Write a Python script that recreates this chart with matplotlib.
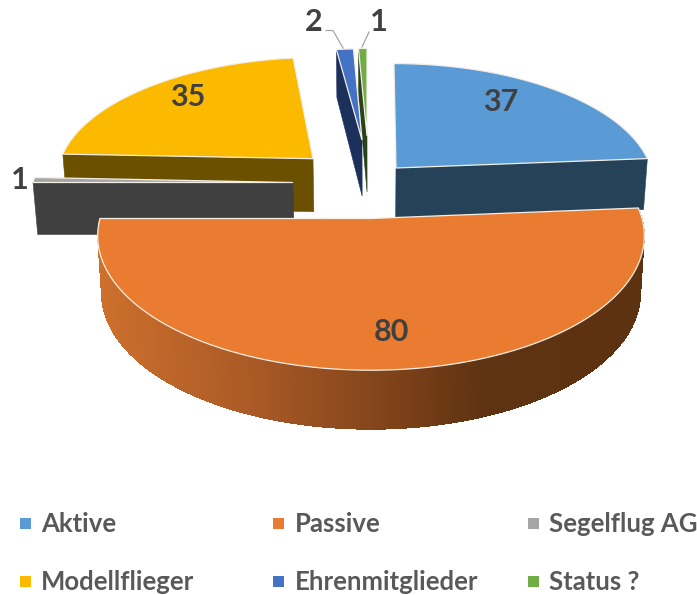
import numpy as np
import matplotlib
matplotlib.use("Agg")
import matplotlib.pyplot as plt
from matplotlib.patches import Polygon, Rectangle

categories = ["Aktive", "Passive", "Segelflug AG", "Modellflieger", "Ehrenmitglieder", "Status ?"]
values = [37, 80, 1, 35, 2, 1]
colors = ["#5B9BD5", "#E97C30", "#A5A5A5", "#FBBA00", "#4472C4", "#70AD47"]
side_colors = ["#264259", "#7A401A", "#404040", "#6B5000", "#1C305C", "#2A4219"]

# per-slice projection: apex x, apex y, rx, ry, shear, depth, depth growth
geometry = {
    "Aktive": (396, 168, 255, 118, 2.3, 51, 0),
    "Passive": (371, 218.5, 271, 132, 0, 57, 0.035),
    "Segelflug AG": (293, 182.5, 260, 125, 0, 52, 0),
    "Modellflieger": (313, 158.7, 252, 114.5, -8, 53, 0),
    "Ehrenmitglieder": (362, 140, 240, 103, 0, 56, 0.143),
    "Status ?": (367, 136, 240, 99, 0, 56, 0.143),
}
PERSP = 0.13
VANISH_X = 372
SHRINK = 0.014

fig = plt.figure(figsize=(6.97, 5.95), dpi=100)
ax = fig.add_axes([0, 0, 1, 1])
ax.set_xlim(0, 697)
ax.set_ylim(595, 0)
ax.axis("off")

edges = np.cumsum([0] + values) / sum(values) * 360.0


def top(name, theta):
    ax0, ay0, rx, ry, sh, _, _ = geometry[name]
    t = np.radians(theta)
    u, v = np.sin(t), -np.cos(t)
    s = 1 / (1 - PERSP * v)
    return np.column_stack([ax0 + (rx * u + sh * v) * s, ay0 + ry * v * s]) if np.ndim(theta) else \
        np.array([ax0 + (rx * u + sh * v) * s, ay0 + ry * v * s])


def drop(name, pts, v):
    _, _, _, _, _, d, q = geometry[name]
    pts = np.atleast_2d(pts).astype(float)
    out = pts.copy()
    out[:, 0] += (VANISH_X - pts[:, 0]) * SHRINK
    out[:, 1] += d * (1 + q * np.asarray(v))
    return out


def apex(name):
    return np.array(geometry[name][:2], dtype=float)


def cut_face(name, theta, color, z):
    a = apex(name)
    p = top(name, float(theta))
    v = -np.cos(np.radians(theta))
    low = drop(name, np.vstack([p, a]), [v, 0])
    ax.add_patch(Polygon([a, p, low[0], low[1]], closed=True, fc=color, ec=color, lw=0.4, zorder=z))


def top_face(name, t0, t1, color, z):
    arc = top(name, np.linspace(t0, t1, 160))
    pts = np.vstack([apex(name), arc])
    ax.add_patch(Polygon(pts, closed=True, fc=color, ec="#F4EFE6", lw=0.9, joinstyle="miter", zorder=z))


def shade(x):
    # brown gradient along the rim of the large slice
    xs = [95, 250, 400, 480, 650]
    r = [206, 170, 124, 95, 93]
    g = [112, 90, 65, 51, 50]
    b = [45, 38, 25, 18, 17]
    return (np.interp(x, xs, r) / 255, np.interp(x, xs, g) / 255, np.interp(x, xs, b) / 255)


# back slices, drawn far to near
order = [("Modellflieger", 3, "start", 2), ("Segelflug AG", 2, "start", 4),
         ("Ehrenmitglieder", 4, "start", 2), ("Status ?", 5, "start", 2), ("Aktive", 0, "end", 2)]
for name, i, which, z in order:
    t0, t1 = edges[i], edges[i + 1]
    cut_face(name, t0 if which == "start" else t1, side_colors[i], z)
    top_face(name, t0, t1, colors[i], z + 1)

# rim and top of the large slice: overlapping strips keep the gradient smooth
i = 1
name = categories[i]
th = np.linspace(edges[i], edges[i + 1], 360)
tp = top(name, th)
bt = drop(name, tp, -np.cos(np.radians(th)))
order_k = range(len(th) - 2)
for k in order_k:
    c = shade(0.5 * (tp[k, 0] + tp[k + 1, 0]))
    ax.add_patch(Polygon([tp[k], tp[k + 2], bt[k + 2], bt[k]], closed=True, fc=c, ec="none",
                         antialiased=False, zorder=6))
top_face(name, edges[i], edges[i + 1], colors[i], 7)

# value labels
value_font = dict(family="Lato", fontweight="bold", fontsize=22, color="#404040",
                  ha="center", va="center", zorder=10)
label_pos = [(501, 102), (391, 332), (20, 180), (188, 97), (314, 22), (379, 22)]
for val, (x, y) in zip(values, label_pos):
    ax.text(x, y, str(val), **value_font)

# leader lines
ax.plot([326, 333, 343], [30.5, 30.5, 48], color="#A6A6A6", lw=0.9, zorder=9)
ax.plot([369, 362], [32, 47], color="#A6A6A6", lw=0.9, zorder=9)

# legend
legend_pos = [(20, 41, 523.5), (273, 295, 523.5), (527.5, 549, 523.5),
              (20, 41, 581.5), (273, 295, 581.5), (527.5, 549, 581.5)]
for cat, col, (sx, tx, y) in zip(categories, colors, legend_pos):
    ax.add_patch(Rectangle((sx, y - 5.5), 11, 11, fc=col, ec="none"))
    ax.text(tx, y, cat, family="Lato", fontweight="bold", fontsize=18.5, color="#595959",
            ha="left", va="center")

fig.savefig("out.png", dpi=100)
